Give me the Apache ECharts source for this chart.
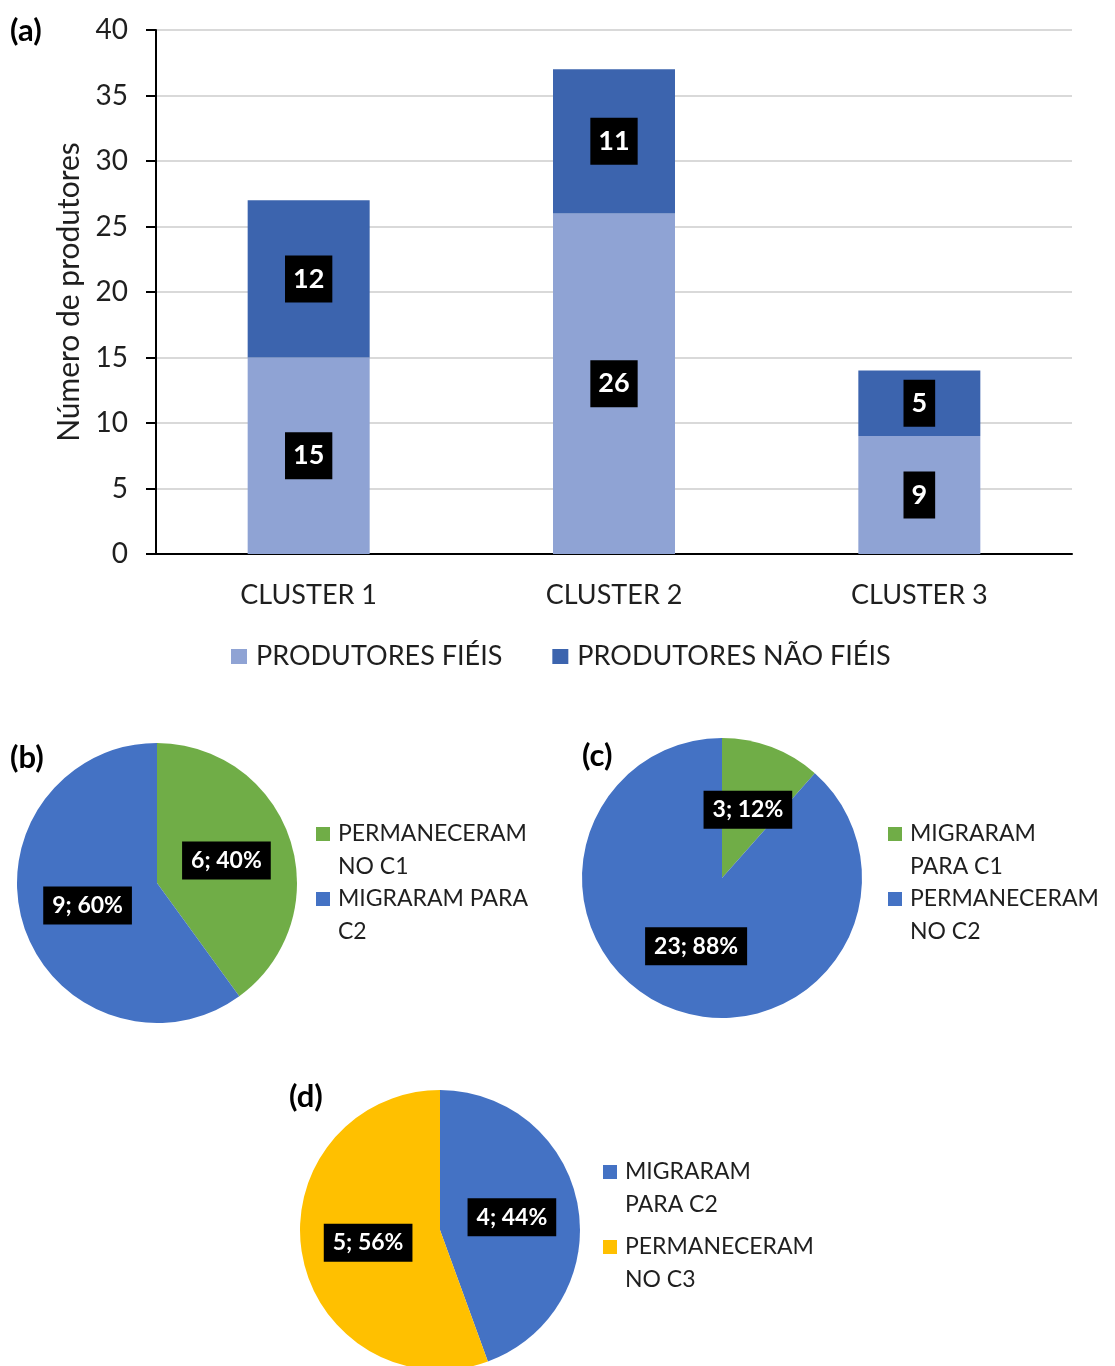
<!DOCTYPE html>
<html><head><meta charset="utf-8">
<script src="https://cdn.jsdelivr.net/npm/echarts@6/dist/echarts.min.js"></script>
<style>html,body{margin:0;padding:0;background:#fff}#c{width:1115px;height:1366px}</style>
</head><body><div id="c"></div>
<script>
// ---- data ----
const categories = ['CLUSTER 1', 'CLUSTER 2', 'CLUSTER 3'];
const fieis = [15, 26, 9];
const naoFieis = [12, 11, 5];
const barSeriesNames = ['PRODUTORES FIÉIS', 'PRODUTORES NÃO FIÉIS'];
const yAxisTitle = 'Número de produtores';

const pieBNames = ['PERMANECERAM\nNO C1', 'MIGRARAM PARA\nC2'];
const pieBValues = [6, 9];
const pieCNames = ['MIGRARAM\nPARA C1', 'PERMANECERAM\nNO C2'];
const pieCValues = [3, 23];
const pieDNames = ['MIGRARAM\nPARA C2', 'PERMANECERAM\nNO C3'];
const pieDValues = [4, 5];

// ---- styles ----
const FONT = 'Lato, "Noto Sans", sans-serif';
const TXT = '#1f1f1f';
const C_LIGHT = '#8FA3D4', C_DARK = '#3C64AE';
const C_GREEN = '#70AD47', C_BLUE = '#4472C4', C_YELLOW = '#FFC000';

const barLabel = {
  show: true, position: 'inside', color: '#fff', backgroundColor: '#000',
  fontWeight: 'bold', fontSize: 27, fontFamily: FONT, padding: [8, 8], lineHeight: 31
};
const pieLabel = {
  show: true, position: 'inside', formatter: '{c}; {d}%', color: '#fff', backgroundColor: '#000',
  fontWeight: 'bold', fontSize: 23, fontFamily: FONT, padding: [5, 9], lineHeight: 28
};
const ICON = 'path://M0,0H14V14H0Z M0,46.99H0.01V47H0Z';
function pieLegend(names, left, top, gap) {
  return {
    data: names, orient: 'vertical', left: left, top: top, padding: 0,
    itemWidth: 14, itemHeight: 47, itemGap: gap, icon: ICON, selectedMode: false,
    textStyle: { fontSize: 23, lineHeight: 33, color: TXT, fontFamily: FONT, padding: [0, 0, 0, 3] }
  };
}
function pieData(names, values, colors) {
  return names.map((n, i) => ({ name: n, value: values[i], itemStyle: { color: colors[i] } }));
}
function pieSeries(names, values, colors, center) {
  return {
    type: 'pie', radius: 140, center: center, startAngle: 90, clockwise: true,
    percentPrecision: 0, label: pieLabel, labelLine: { show: false },
    itemStyle: { borderWidth: 0 }, emphasis: { disabled: true },
    data: pieData(names, values, colors)
  };
}
const titleStyle = { fontSize: 31, fontWeight: 'bold', color: '#000', fontFamily: FONT };

const chart = echarts.init(document.getElementById('c'));
chart.setOption({
  animation: false,
  backgroundColor: '#fff',
  title: [
    { text: '(a)', left: 10, top: 15, padding: 0, textStyle: titleStyle },
    { text: '(b)', left: 10, top: 742, padding: 0, textStyle: titleStyle },
    { text: '(c)', left: 582, top: 740, padding: 0, textStyle: titleStyle },
    { text: '(d)', left: 289, top: 1081, padding: 0, textStyle: titleStyle }
  ],
  grid: { left: 156, right: 43, top: 30, bottom: 812, containLabel: false },
  xAxis: {
    type: 'category', data: categories,
    axisLine: { show: true, lineStyle: { color: '#000', width: 2 } },
    axisTick: { show: false },
    axisLabel: { fontSize: 27, color: TXT, margin: 28, fontFamily: FONT }
  },
  yAxis: {
    type: 'value', min: 0, max: 40, interval: 5,
    name: yAxisTitle, nameLocation: 'middle', nameGap: 72,
    nameTextStyle: { fontSize: 30, color: TXT, fontFamily: FONT },
    axisLine: { show: true, lineStyle: { color: '#000', width: 2 } },
    axisTick: { show: true, length: 10, lineStyle: { color: '#000', width: 2 } },
    axisLabel: { fontSize: 28, color: TXT, margin: 28, fontFamily: FONT },
    splitLine: { show: true, lineStyle: { color: '#d9d9d9', width: 2 } }
  },
  legend: [
    {
      data: barSeriesNames, left: 231, top: 641, padding: 0, itemWidth: 16, itemHeight: 15, itemGap: 50,
      icon: 'rect', selectedMode: false,
      textStyle: { fontSize: 27, lineHeight: 31, color: TXT, fontFamily: FONT, padding: [0, 0, 0, 4] }
    },
    pieLegend(pieBNames, 316, 817.5, -1),
    pieLegend(pieCNames, 888, 817.5, -1),
    pieLegend(pieDNames, 603, 1155.5, 9)
  ],
  series: [
    { name: barSeriesNames[0], type: 'bar', stack: 'a', barWidth: 122, data: fieis,
      itemStyle: { color: C_LIGHT }, label: barLabel, emphasis: { disabled: true } },
    { name: barSeriesNames[1], type: 'bar', stack: 'a', barWidth: 122, data: naoFieis,
      itemStyle: { color: C_DARK }, label: barLabel, emphasis: { disabled: true } },
    pieSeries(pieBNames, pieBValues, [C_GREEN, C_BLUE], [157, 883]),
    pieSeries(pieCNames, pieCValues, [C_GREEN, C_BLUE], [722, 878]),
    pieSeries(pieDNames, pieDValues, [C_BLUE, C_YELLOW], [440, 1230])
  ]
});
</script></body></html>
